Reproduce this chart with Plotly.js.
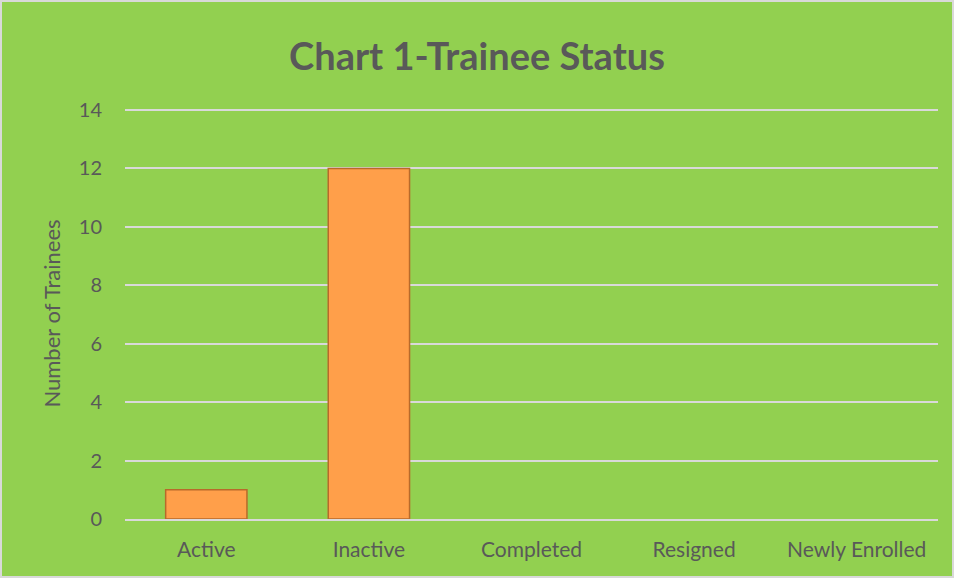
<!DOCTYPE html>
<html>
<head>
<meta charset="utf-8">
<script src="https://cdn.plot.ly/plotly-3.0.1.min.js"></script>
<style>
html,body{margin:0;padding:0;background:#fff;}
#wrap{width:950px;height:574px;border:2px solid #D9D9D9;}
#chart{width:950px;height:574px;}
</style>
</head>
<body>
<div id="wrap"><div id="chart"></div></div>
<script>
const categories = ["Active", "Inactive", "Completed", "Resigned", "Newly Enrolled"];
const trainees = [1, 12, 0, 0, 0];
const yTicks = [0, 2, 4, 6, 8, 10, 12, 14];

const font = "Lato, 'Open Sans', sans-serif";
const trace = {
  type: "bar",
  x: categories,
  y: trainees,
  marker: {
    color: "#FF9F4A",
    line: {color: "#B86A2A", width: trainees.map(v => v > 0 ? 1.5 : 0)}
  },
  hoverinfo: "x+y"
};
const layout = {
  width: 950, height: 574,
  paper_bgcolor: "#92D050",
  plot_bgcolor: "#92D050",
  margin: {l: 123, r: 14, t: 106, b: 57},
  bargap: 0.5,
  showlegend: false,
  title: {text: "<b>Chart 1-Trainee Status</b>", font: {family: font, size: 38, color: "#595959"}, x: 0.5, xanchor: "center", y: 0.905, yanchor: "middle"},
  xaxis: {
    tickfont: {family: font, size: 21, color: "#595959"},
    ticks: "outside", ticklen: 11, tickcolor: "rgba(0,0,0,0)",
    showline: true, linecolor: "#D9D9D9", linewidth: 2,
    showgrid: false
  },
  yaxis: {
    range: [0, 14.07], tickvals: yTicks,
    tickfont: {family: font, size: 20, color: "#595959"},
    ticks: "outside", ticklen: 18, tickcolor: "rgba(0,0,0,0)",
    showgrid: true, gridcolor: "#D9D9D9", gridwidth: 2,
    zeroline: false, showline: false,
    title: {text: "Number of Trainees", font: {family: font, size: 22, color: "#595959"}, standoff: 12}
  }
};
Plotly.newPlot("chart", [trace], layout, {displayModeBar: false, staticPlot: true});
</script>
</body>
</html>
